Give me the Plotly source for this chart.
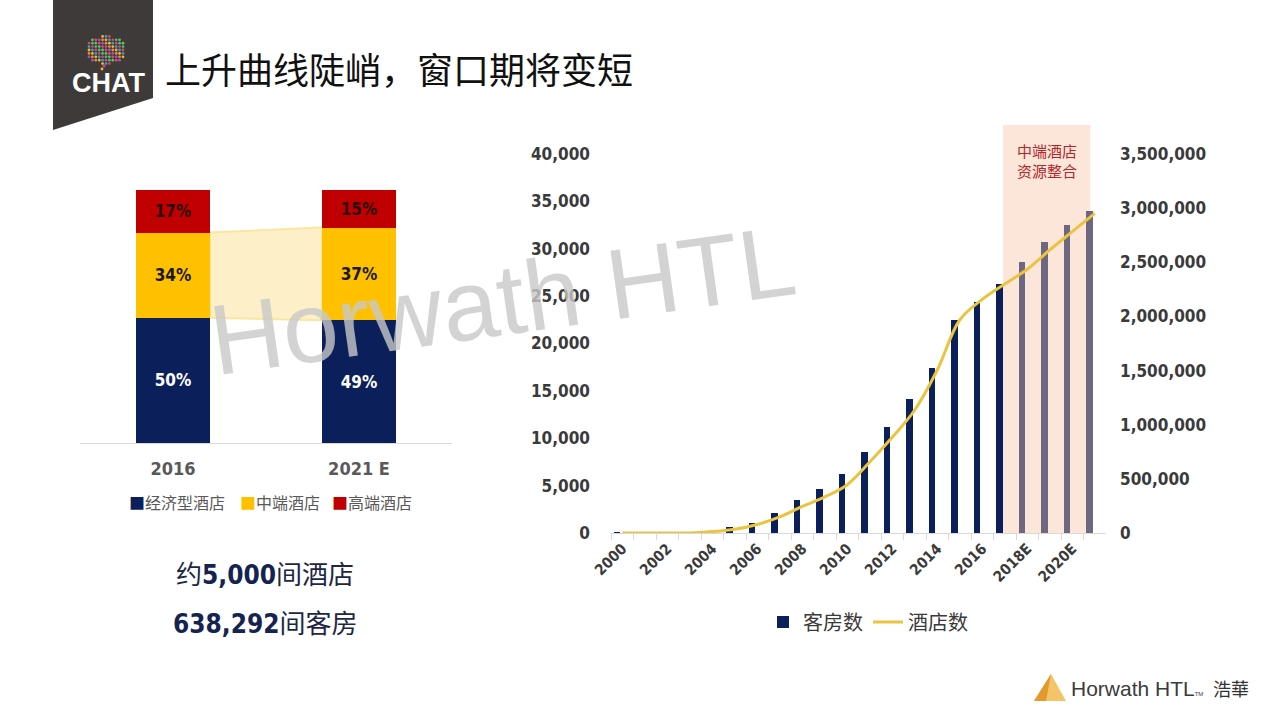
import plotly.graph_objects as go

W, H = 1280, 720

# ---------------- data ----------------
years = ['2000', '2001', '2002', '2003', '2004', '2005', '2006', '2007', '2008', '2009',
         '2010', '2011', '2012', '2013', '2014', '2015', '2016', '2017',
         '2018E', '2019E', '2020E', '2021E']
rooms = [100, 0, 0, 0, 50, 600, 1050, 2100, 3480, 4620, 6220, 8550, 11200, 14150,
         17400, 22470, 24360, 26270, 28570, 30680, 32460, 33960]
hotels = [0, 0, 0, 0, 13000, 35000, 79000, 149000, 245000, 333000, 446000, 656000,
          884000, 1136000, 1505000, 1967000, 2158000, 2300000, 2435000, 2614000,
          2783000, 2952000]
forecast_years = ['2018E', '2019E', '2020E', '2021E']
left_ticks = [0, 5000, 10000, 15000, 20000, 25000, 30000, 35000, 40000]
right_ticks = [0, 500000, 1000000, 1500000, 2000000, 2500000, 3000000, 3500000]

mix_years = ['2016', '2021 E']
economy = [50, 49]
midscale = [34, 37]
upscale = [17, 15]
segment_names = ['经济型酒店', '中端酒店', '高端酒店']

hotel_total = '5,000'
room_total = '638,292'

# ---------------- style ----------------
NAVY = '#0b1f5a'
GREY_BAR = '#6d6780'
GOLD = '#e9c440'
YEL = '#ffc000'
RED = '#c00000'
AX = '#d9d9d9'
TXT = '#3a3a3a'
NUM_FONT = 'Liberation Sans Narrow, DejaVu Sans Condensed, Arial Narrow, sans-serif'
CJK = 'Noto Sans CJK SC, Noto Sans, sans-serif'


def px(x):
    return x / W


def py(y):
    return 1 - y / H


fig = go.Figure()

# ---------- left: stacked mix ----------
seg_cols = [NAVY, YEL, RED]
seg_txt = ['white', '#1a1a1a', '#2a0a0a']
for name, vals, col, tcol in zip(segment_names, [economy, midscale, upscale], seg_cols, seg_txt):
    fig.add_trace(go.Bar(
        x=mix_years, y=vals, name=name, marker=dict(color=col, line=dict(width=0)),
        width=0.4, xaxis='x3', yaxis='y3', showlegend=False,
        texttemplate='%{y}%', textposition='inside', insidetextanchor='middle',
        textangle=0, constraintext='none',
        textfont=dict(family=NUM_FONT, size=17, color=tcol, weight='bold'),
        hoverinfo='skip'))

# ---------- right: rooms & hotels ----------
bar_colors = [GREY_BAR if y in forecast_years else NAVY for y in years]
fig.add_trace(go.Bar(
    x=years, y=rooms, name='客房数', marker=dict(color=bar_colors, line=dict(width=0)),
    offset=-0.37, width=0.28, xaxis='x', yaxis='y', legend='legend', hoverinfo='skip'))
fig.add_trace(go.Scatter(
    x=years, y=hotels, name='酒店数', mode='lines',
    line=dict(color=GOLD, width=3, shape='spline', smoothing=1.0),
    xaxis='x', yaxis='y2', legend='legend', hoverinfo='skip'))

shapes = []
# forecast shading
shapes.append(dict(type='rect', xref='x', yref='paper', x0=16.92, x1=20.8,
                   y0=py(533), y1=py(125), fillcolor='#fce6da', line=dict(width=0),
                   layer='below'))
# connector between mid-scale segments
x_l, x_r = 0.2, 0.8
path = (f'M {x_l},{economy[0]} L {x_r},{economy[1]} '
        f'L {x_r},{economy[1] + midscale[1]} L {x_l},{economy[0] + midscale[0]} Z')
shapes.append(dict(type='path', xref='x3', yref='y3', path=path,
                   fillcolor='#fdf0c8', line=dict(color='#fbe6a0', width=2), layer='below'))
# CHAT banner
shapes.append(dict(type='path', xref='paper', yref='paper',
                   path=f'M {px(53)},{py(0)} L {px(153)},{py(0)} L {px(153)},{py(98)} L {px(53)},{py(130)} Z',
                   fillcolor='#3e3a39', line=dict(width=0)))
# colourful dot bubble on banner
palette = ['#e8467c', '#f6b72f', '#43b8a8', '#9b59b6', '#3a9ad9', '#6cc24a', '#f08c2e', '#e04b3a']
cx, cy, rx, ry = 106, 50, 20, 14
for ix in range(-6, 7):
    for iy in range(-4, 5):
        dx, dy = ix * 3.4, iy * 3.4
        if (dx / rx) ** 2 + (dy / ry) ** 2 <= 1:
            c = palette[(ix * 3 + iy * 5) % len(palette)]
            r = 1.4
            shapes.append(dict(type='circle', xref='paper', yref='paper',
                               x0=px(cx + dx - r), x1=px(cx + dx + r),
                               y0=py(cy + dy + r), y1=py(cy + dy - r),
                               fillcolor=c, line=dict(width=0)))
for k, (dx, dy) in enumerate([(-2, 16), (-4, 19)]):
    r = 1.4
    shapes.append(dict(type='circle', xref='paper', yref='paper',
                       x0=px(cx + dx - r), x1=px(cx + dx + r),
                       y0=py(cy + dy + r), y1=py(cy + dy - r),
                       fillcolor=palette[k], line=dict(width=0)))
# Horwath logo mountain
shapes.append(dict(type='path', xref='paper', yref='paper',
                   path=f'M {px(1034)},{py(701)} L {px(1051)},{py(674)} L {px(1066)},{py(701)} Z',
                   fillcolor='#f3c468', line=dict(width=0)))
shapes.append(dict(type='path', xref='paper', yref='paper',
                   path=f'M {px(1034)},{py(701)} L {px(1051)},{py(674)} L {px(1046)},{py(701)} Z',
                   fillcolor='#e39a2d', line=dict(width=0)))

annotations = []
annotations.append(dict(text='上升曲线陡峭，窗口期将变短', x=px(163), y=py(68), xref='paper', yref='paper',
                        xanchor='left', yanchor='middle', showarrow=False,
                        font=dict(family=CJK, size=36, color='#111111')))
annotations.append(dict(text='<b>CHAT</b>', x=px(108), y=py(83), xref='paper', yref='paper',
                        xanchor='center', yanchor='middle', showarrow=False,
                        font=dict(family='Liberation Sans, Arial, sans-serif', size=27, color='white')))
annotations.append(dict(text='中端酒店<br>资源整合', x=(16.92 + 20.8) / 2, y=py(160), xref='x', yref='paper',
                        xanchor='center', yanchor='middle', showarrow=False, align='center',
                        font=dict(family=CJK, size=15, color='#b3262a')))
# left legend (manual, tight like the original)
leg_x = [127, 238, 330]
for lx, name, col in zip(leg_x, segment_names, seg_cols):
    annotations.append(dict(text=f'<span style="color:{col}">■</span>{name}', x=px(lx), y=py(502),
                            xref='paper', yref='paper', xanchor='left', yanchor='middle',
                            showarrow=False, font=dict(family=CJK, size=16, color='#595959')))
num_span = f'font-family:{NUM_FONT};font-weight:bold;color:#14234f'
annotations.append(dict(text=f'约<span style="{num_span}">{hotel_total}</span>间酒店',
                        x=px(265), y=py(572), xref='paper', yref='paper', xanchor='center',
                        yanchor='middle', showarrow=False,
                        font=dict(family=CJK, size=26, color='#1d2745')))
annotations.append(dict(text=f'<span style="{num_span}">{room_total}</span>间客房',
                        x=px(265), y=py(621), xref='paper', yref='paper', xanchor='center',
                        yanchor='middle', showarrow=False,
                        font=dict(family=CJK, size=26, color='#1d2745')))
annotations.append(dict(text='Horwath HTL', x=px(502), y=py(300), xref='paper', yref='paper',
                        xanchor='center', yanchor='middle', showarrow=False, textangle=-8,
                        font=dict(family='Liberation Sans, Arial, sans-serif', size=100,
                                  color='rgba(200,200,200,0.8)')))
annotations.append(dict(text='Horwath HTL<span style="font-size:6px">TM</span>', x=px(1069), y=py(688),
                        xref='paper', yref='paper', xanchor='left', yanchor='middle', showarrow=False,
                        font=dict(family='Liberation Sans, Arial, sans-serif', size=21, color='#3b3b3b')))
annotations.append(dict(text='浩華', x=px(1211), y=py(688), xref='paper', yref='paper',
                        xanchor='left', yanchor='middle', showarrow=False,
                        font=dict(family='Noto Sans CJK TC, sans-serif', size=18, color='#333333')))

year_text = [y if i % 2 == 0 else '' for i, y in enumerate(years)]

fig.update_layout(
    width=W, height=H, margin=dict(l=0, r=0, t=0, b=0, pad=0, autoexpand=False),
    paper_bgcolor='white', plot_bgcolor='rgba(0,0,0,0)',
    barmode='stack', showlegend=True,
    xaxis=dict(domain=[px(611), px(1106)], anchor='y', type='category', automargin=False,
               tickvals=years, ticktext=year_text, tickangle=-45,
               showline=True, linecolor=AX, linewidth=1, ticks='outside', tickson='boundaries',
               ticklen=6, tickcolor=AX, showgrid=False, zeroline=False,
               tickfont=dict(family=NUM_FONT, size=15, color=TXT, weight='bold'),
               range=[-0.5, len(years) - 0.5]),
    yaxis=dict(domain=[py(533), py(154)], anchor='x', range=[0, 40000], automargin=False,
               tickvals=left_ticks, tickformat=',', showgrid=False, zeroline=False,
               showline=False, ticks='', ticklabelstandoff=20,
               tickfont=dict(family=NUM_FONT, size=17, color=TXT, weight='bold')),
    yaxis2=dict(overlaying='y', side='right', anchor='x', range=[0, 3500000], automargin=False,
                tickvals=right_ticks, tickformat=',', showgrid=False, zeroline=False,
                showline=False, ticks='', ticklabelstandoff=13,
                tickfont=dict(family=NUM_FONT, size=17, color=TXT, weight='bold')),
    xaxis3=dict(domain=[px(80), px(452)], anchor='y3', type='category', automargin=False,
                range=[-0.5, 1.5], showline=True, linecolor=AX, linewidth=1,
                ticks='', showgrid=False, zeroline=False, ticklabelstandoff=9,
                tickfont=dict(family=NUM_FONT, size=18, color='#595959', weight='bold')),
    yaxis3=dict(domain=[py(443), py(190)], anchor='x3', range=[0, 101], visible=False),
    legend=dict(orientation='h', x=px(868), xanchor='center', y=py(622), yanchor='middle',
                font=dict(family=CJK, size=20, color=TXT), itemwidth=30,
                bgcolor='rgba(0,0,0,0)', traceorder='normal'),
    shapes=shapes, annotations=annotations,
)

fig.write_html('out.html', config={'displayModeBar': False},
               post_script="document.body.style.margin='0';")
